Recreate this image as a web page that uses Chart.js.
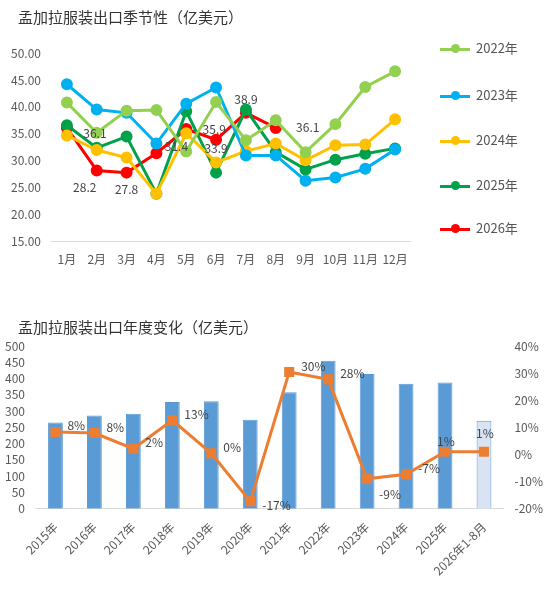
<!DOCTYPE html>
<html><head><meta charset="utf-8">
<script src="https://cdn.jsdelivr.net/npm/chart.js@4/dist/chart.umd.min.js"></script>
<style>
body{margin:0;background:#fff;font-family:"Noto Sans CJK SC",sans-serif;}
#a{position:absolute;left:0;top:0;width:550px;height:290px}
#b{position:absolute;left:0;top:300px;width:550px;height:311px}
.t{position:absolute;font-size:15px;color:#333}
.lg{position:absolute;left:440px;font-size:13px;color:#555}
.lg i{display:inline-block;width:30px;height:3px;vertical-align:middle;margin-right:6px;position:relative}
.lg i:after{content:"";position:absolute;left:11px;top:-3.5px;width:9px;height:9px;border-radius:50%;background:inherit}
</style></head><body>
<div id="a"><canvas id="c1"></canvas></div>
<div id="b"><canvas id="c2"></canvas></div>
<div class="t" style="left:18px;top:6px">孟加拉服装出口季节性（亿美元）</div>
<div class="t" style="left:18px;top:316px">孟加拉服装出口年度变化（亿美元）</div>
<div id="legend"></div>
<script>
const months=['1月','2月','3月','4月','5月','6月','7月','8月','9月','10月','11月','12月'];
const s2022=[40.8,35.2,39.3,39.4,31.7,40.9,33.8,37.5,31.6,36.8,43.7,46.6];
const s2023=[44.2,39.5,38.9,33.2,40.6,43.6,31.0,31.0,26.3,26.9,28.5,32.1];
const s2024=[34.7,32.0,30.6,23.9,35.1,29.7,31.8,33.2,30.1,32.9,33.0,37.7];
const s2025=[36.6,32.4,34.5,23.9,39.2,27.8,39.5,31.6,28.4,30.2,31.3,32.3];
const s2026=[36.1,28.2,27.8,31.4,35.9,33.9,38.9,36.1];
const years=['2015年','2016年','2017年','2018年','2019年','2020年','2021年','2022年','2023年','2024年','2025年','2026年1-8月'];
const exportsVal=[265,286,292,328,330,273,358,455,414,384,388,270];
const growth=[8.3,7.9,2.1,12.6,0.4,-17.3,30.4,27.7,-9.0,-7.3,1.0,1.0];
const growthLabels=['8%','8%','2%','13%','0%','-17%','30%','28%','-9%','-7%','1%','1%'];

const series=[['2022年',s2022,'#92d050'],['2023年',s2023,'#00b0f0'],['2024年',s2024,'#ffc000'],['2025年',s2025,'#00a14b'],['2026年',s2026,'#ff0000']];
const tops=[38,85,130,175,218];
document.getElementById('legend').innerHTML=series.map((s,i)=>`<div class="lg" style="top:${tops[i]}px"><i style="background:${s[2]}"></i>${s[0]}</div>`).join('');

const tickFont={family:'"Noto Sans CJK SC", sans-serif',size:12};
const redOff=[[28,6],[-12,17],[0,17],[20,-7],[28,0],[0,9],[0,-13],[32,0]];
const labelPlugin={id:'lbl',afterDatasetsDraw(ch){const ctx=ch.ctx;const m=ch.getDatasetMeta(4);ctx.save();ctx.font='12px "Noto Sans CJK SC", sans-serif';ctx.fillStyle='#444';ctx.textAlign='center';ctx.textBaseline='middle';
m.data.forEach((p,i)=>{ctx.fillText(s2026[i].toFixed(1),p.x+redOff[i][0],p.y+redOff[i][1]);});ctx.restore();}};
new Chart(document.getElementById('c1'),{type:'line',data:{labels:months,datasets:series.map(s=>({label:s[0],data:s[1],borderColor:s[2],backgroundColor:s[2],borderWidth:3,pointRadius:4.5,pointHoverRadius:4.5,tension:0}))},
options:{responsive:true,maintainAspectRatio:false,animation:false,layout:{padding:{top:53,right:140,left:8,bottom:20}},plugins:{legend:{display:false},tooltip:{enabled:false}},
scales:{y:{min:15,max:50,ticks:{stepSize:5,callback:v=>v.toFixed(2),color:'#595959',font:tickFont},grid:{display:false},border:{display:false}},
x:{offset:true,ticks:{color:'#595959',font:tickFont,maxRotation:0,minRotation:0,autoSkip:false},grid:{display:false},border:{color:'#d9d9d9'}}}},plugins:[labelPlugin]});

const gLabel={id:'g',afterDatasetsDraw(ch){const ctx=ch.ctx;const m=ch.getDatasetMeta(0);ctx.save();ctx.font='12px "Noto Sans CJK SC", sans-serif';ctx.fillStyle='#444';ctx.textAlign='left';ctx.textBaseline='middle';
m.data.forEach((p,i)=>{let dy=(i===5)?4:(i===8?16:(i===11?-18:(i===10?-10:-6)));let dx=i===10?-8:(i===11?-8:12);ctx.fillText(growthLabels[i],p.x+dx,p.y+dy);});ctx.restore();}};
new Chart(document.getElementById('c2'),{data:{labels:years,datasets:[
{type:'line',data:growth,yAxisID:'y1',borderColor:'#ed7d31',backgroundColor:'#ed7d31',borderWidth:3,pointStyle:'rect',pointRadius:5,tension:0,order:0},
{type:'bar',data:exportsVal,yAxisID:'y',backgroundColor:exportsVal.map((v,i)=>i===11?'#dae3f3':'#5b9bd5'),borderColor:'#5b9bd5',borderWidth:1,barPercentage:0.38,categoryPercentage:1,order:1}]},
options:{responsive:true,maintainAspectRatio:false,animation:false,layout:{padding:{top:46,right:4,left:2,bottom:30}},plugins:{legend:{display:false},tooltip:{enabled:false}},
scales:{y:{min:0,max:500,ticks:{stepSize:50,autoSkip:false,color:'#595959',font:tickFont},grid:{display:false},border:{display:false}},
y1:{position:'right',min:-20,max:40,ticks:{stepSize:10,autoSkip:false,color:'#595959',font:tickFont,callback:v=>v+'%'},grid:{display:false},border:{display:false}},
x:{ticks:{color:'#595959',font:tickFont,maxRotation:45,minRotation:45},grid:{display:false},border:{color:'#d9d9d9'}}}},plugins:[gLabel]});
</script></body></html>
